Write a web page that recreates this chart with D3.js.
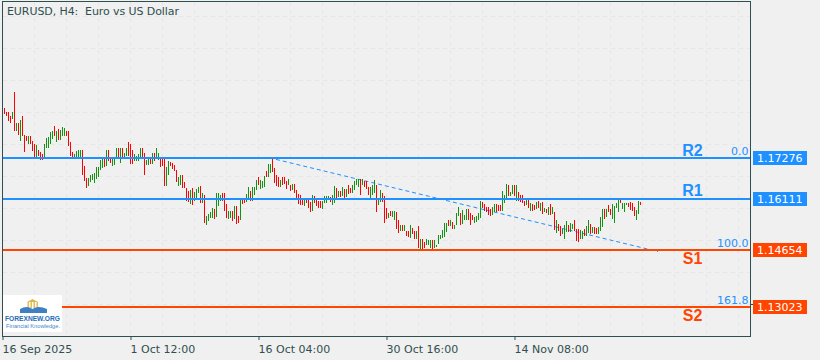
<!DOCTYPE html>
<html><head><meta charset="utf-8">
<script src="https://cdn.jsdelivr.net/npm/d3@7/dist/d3.min.js"></script>
<style>html,body{margin:0;padding:0;background:#f0f0f0;overflow:hidden}svg{display:block}text{font-family:"DejaVu Sans",sans-serif}</style>
</head><body><svg id="c" width="820" height="360"></svg>
<script>
// Prices in pips (price x 10000)
const highs = [
11872,11860,11860,11849,11860,11918,11830,11830,11837,11849,11795,11793,11792,11792,11778,11769,11765,11753,11746,11740,11769,11786,11790,11803,11807,11820,11807,11811,11809,11818,11816,11807,11807,11774,11746,11740,11749,11753,11751,11753,11707,11671,11671,11679,11683,11686,11702,11704,11723,11725,11727,11751,11753,11727,11725,11727,11759,11757,11757,11759,11744,11757,11776,11769,11753,11740,11734,11740,
11757,11757,11744,11723,11729,11729,11744,11744,11757,11744,11729,11729,11729,11704,11721,11717,11715,11708,11694,11675,11681,11681,11660,11643,11635,11637,11643,11631,11641,11647,11649,11630,11622,11564,11568,11574,11587,11582,11630,11630,11622,11628,11628,11597,11578,11578,11576,11591,11591,11564,11610,11612,11612,11626,11647,11635,11647,11647,11666,11675,11666,11662,11677,11692,11712,
11712,11729,11699,11681,11676,11666,11674,11674,11664,11668,11653,11655,11655,11637,11626,11624,11609,11609,11609,11609,11603,11624,11620,11609,11607,11607,11607,11620,11620,11620,11618,11622,11649,11643,11635,11635,11647,11639,11641,11653,11643,11651,11664,11670,11668,11668,11670,11664,11662,11647,11647,11653,11666,11653,11609,11637,11630,11620,11586,11572,11578,11576,11576,11574,11551,
11538,11538,11538,11521,11519,11538,11529,11519,11519,11533,11496,11496,11487,11496,11495,11495,11495,11495,11479,11508,11508,11523,11544,11544,11552,11552,11546,11538,11571,11588,11571,11580,11565,11582,11582,11571,11565,11561,11563,11571,11605,11603,11596,11588,11588,11582,11588,11598,11596,11594,11594,11634,11624,11655,11651,11632,11651,11651,11651,11632,11622,11622,11607,11609,11615,
11599,11596,11594,11603,11605,11601,11603,11586,11584,11590,11598,11588,11573,11552,11540,11535,11525,11536,11548,11536,11542,11540,11552,11527,11525,11523,11519,11525,11535,11550,11540,11531,11531,11529,11531,11561,11584,11584,11582,11594,11584,11596,11592,11601,11611,11609,11599,11599,11601,11599,11603,11601,11590,11580,11605,11603];
const lows = [
11856,11849,11835,11830,11841,11807,11807,11795,11778,11793,11746,11778,11769,11769,11749,11730,11730,11736,11723,11723,11730,11757,11759,11769,11784,11793,11774,11780,11780,11792,11792,11792,11763,11736,11728,11730,11730,11732,11730,11681,11662,11643,11648,11660,11665,11658,11669,11675,11694,11700,11702,11707,11719,11715,11707,11709,11727,11730,11715,11732,11730,11734,11736,11711,11711,11721,11719,11721,
11729,11729,11681,11710,11710,11712,11713,11721,11729,11723,11704,11706,11649,11649,11681,11706,11698,11692,11660,11650,11652,11643,11643,11605,11603,11597,11595,11605,11612,11630,11601,11601,11543,11538,11549,11557,11557,11555,11559,11591,11606,11606,11578,11557,11555,11557,11549,11555,11540,11542,11551,11597,11599,11603,11612,11606,11605,11624,11637,11652,11641,11643,11645,11675,11675,
11685,11689,11657,11649,11645,11647,11653,11655,11639,11653,11634,11636,11628,11615,11597,11595,11594,11592,11599,11586,11574,11576,11599,11592,11586,11586,11584,11599,11601,11609,11603,11595,11601,11615,11616,11618,11620,11615,11616,11626,11628,11628,11637,11653,11647,11624,11651,11645,11641,11624,11615,11624,11630,11574,11595,11603,11603,11544,11555,11557,11563,11561,11551,11527,11515,
11519,11521,11521,11506,11504,11500,11512,11496,11496,11472,11468,11468,11472,11479,11479,11470,11468,11470,11474,11483,11498,11500,11504,11516,11533,11533,11525,11527,11538,11563,11538,11540,11550,11552,11552,11538,11552,11544,11546,11552,11557,11586,11577,11573,11567,11563,11567,11575,11575,11577,11577,11578,11601,11615,11620,11619,11626,11619,11607,11605,11603,11599,11592,11594,11586,
11578,11578,11580,11582,11586,11577,11569,11573,11571,11567,11565,11569,11523,11515,11521,11506,11510,11498,11517,11517,11517,11527,11521,11492,11487,11496,11498,11506,11506,11514,11512,11515,11510,11510,11512,11519,11531,11554,11561,11573,11565,11554,11544,11586,11575,11599,11584,11575,11594,11590,11580,11578,11563,11552,11569,11594];
// g = rising bar, r = falling bar
const directions = (
"rrrrg"+"rgrgr"+"rrgrr"+"rgrrr"+"ggggg"+"rgrgg"+"grrrr"+"ggggr"+"rrggg"+"ggggg"+"rgrrg"+"ggrgr"+"ggrrr"+"ggg"+
"grrgg"+"rgrgg"+"rrrgg"+"rrrrg"+"grrrr"+"grggg"+"rgrgg"+"ggrgg"+"grrrg"+"grgrr"+"grrgg"+"rgggr"+"gggrg"+
"grrrr"+"grrrg"+"rgrrr"+"rrgrr"+"rgrrr"+"rgggg"+"rggrg"+"rgrgr"+"rgggg"+"rgrrr"+"gggrg"+"grrrg"+"rggrr"+
"grgrr"+"grrgr"+"grrgg"+"grggg"+"ggggr"+"grggg"+"rgggr"+"rrggg"+"grrrr"+"rggrr"+"rgggr"+"ggrgr"+"rrrgr"+
"grrgr"+"grgrg"+"rgrgr"+"rgggr"+"ggrrr"+"ggrgg"+"rgrrg"+"ggrgr"+"rgggg"+"rgggr"+"rrrgg"+"r").split("");

const timeTickBars = [0,64,128,192,256];
const timeTickLabels = ["16 Sep 2025","1 Oct 12:00","16 Oct 04:00","30 Oct 16:00","14 Nov 08:00"];
const gridBars = d3.range(0,24).map(k=>k*16);
const gridPrices = [12134,12042,11951,11859,11767,11676,11584,11492,11401,11309];
const levelNames = ["R2","R1","S1","S2"];
const levelPrices = [11727.6,11611.1,11465.4,11302.3];
const levelLabels = ["1.17276","1.16111","1.14654","1.13023"];
const levelColors = ["#1e90ff","#1e90ff","#ff4500","#ff4500"];
const fibLabels = ["0.0",null,"100.0","161.8"];
const fibLineBars = [137,328];
const fibLinePrices = [11725,11461];

const svg = d3.select("#c");
const x = d3.scaleLinear().domain([0,64]).range([2,130]);
const y = d3.scaleLinear().domain([12176,11219]).range([2,336]);
const ink = "#2f4f4f";
const crisp = v => Math.floor(v)+0.5;

// grid
const grid = svg.append("g").attr("stroke","#e6e6e6").attr("stroke-dasharray","4 4").attr("shape-rendering","crispEdges");
grid.selectAll("line.v").data(gridBars).join("line").attr("x1",d=>crisp(x(d))).attr("x2",d=>crisp(x(d))).attr("y1",2).attr("y2",336);
grid.selectAll("line.h").data(gridPrices).join("line").attr("x1",3).attr("x2",750).attr("y1",d=>crisp(y(d))).attr("y2",d=>crisp(y(d)));

// fib trend line
svg.append("path").datum(fibLineBars.map((b,i)=>[b,fibLinePrices[i]]))
  .attr("d",d3.line().x(d=>x(d[0])).y(d=>y(d[1])))
  .attr("fill","none").attr("stroke","#1e90ff").attr("stroke-width",1).attr("stroke-dasharray","4 3");

// bars
svg.append("g").attr("shape-rendering","crispEdges").selectAll("rect").data(highs).join("rect")
  .attr("x",(d,i)=>Math.round(x(i+1)))
  .attr("width",1)
  .attr("y",d=>Math.round(y(d)))
  .attr("height",(d,i)=>Math.max(1,Math.round(y(lows[i]))-Math.round(y(d))))
  .attr("fill",(d,i)=>directions[i]==="g"?"#129412":"#ff0000");

// levels
const levY = d=>Math.round(y(d)-0.2);
svg.append("g").attr("shape-rendering","crispEdges").selectAll("line").data(levelPrices).join("line")
  .attr("x1",3).attr("x2",750).attr("y1",levY).attr("y2",levY)
  .attr("stroke-width",2).attr("stroke",(d,i)=>levelColors[i]);

// level names
svg.append("g").selectAll("text").data(levelNames).join("text")
  .text(d=>d).attr("x",692.5).attr("text-anchor","middle")
  .attr("y",(d,i)=>levY(levelPrices[i])+[-2.5,-3,13.5,14][i])
  .style("font-family","'Liberation Sans',Arial,sans-serif").style("font-weight","bold").style("font-size","16px")
  .attr("fill",(d,i)=>levelColors[i]);

// fib labels
svg.append("g").selectAll("text").data(fibLabels).join("text")
  .text(d=>d).attr("x",748.5).attr("text-anchor","end")
  .attr("y",(d,i)=>levY(levelPrices[i])-3.5)
  .style("font-size","11px").attr("fill","#1e90ff");

// frame
svg.append("rect").attr("x",2.5).attr("y",1.5).attr("width",748).attr("height",335)
  .attr("fill","none").attr("stroke",ink).attr("shape-rendering","crispEdges");
svg.append("line").attr("x1",751).attr("x2",754).attr("y1",304.5).attr("y2",304.5).attr("stroke",ink);

// price tags
const tags = svg.append("g").selectAll("g").data(levelPrices).join("g").attr("transform",d=>`translate(753,${levY(d)-7})`);
tags.append("rect").attr("width",54).attr("height",14).attr("fill",(d,i)=>levelColors[i]);
tags.append("text").text((d,i)=>levelLabels[i]).attr("x",4).attr("y",11).attr("fill","#fff").style("font-size","11px");

// time axis
const axis = d3.axisBottom(x).tickValues(timeTickBars).tickFormat((d,i)=>timeTickLabels[i]).tickSize(4).tickPadding(5);
const ax = svg.append("g").attr("transform","translate(0.5,336)").call(axis);
ax.select(".domain").remove();
ax.selectAll("line").attr("stroke",ink);
ax.selectAll("text").attr("text-anchor","start").attr("x",-0.5).attr("fill",ink).style("font-size","11px").style("font-family","'DejaVu Sans',sans-serif");

// title
svg.append("text").attr("x",7).attr("y",15).attr("xml:space","preserve").style("white-space","pre").style("font-size","11px").attr("textLength",172).attr("fill",ink).text("EURUSD, H4:  Euro vs US Dollar");

// logo
const logo = svg.append("g");
logo.append("rect").attr("x",3).attr("y",295).attr("width",59).attr("height",37).attr("fill","#fff");
logo.append("path").attr("d","M27 302 L32.5 299 L38 302 Z").attr("fill","#e0b84a");
[28,31,34,37].forEach(c=>logo.append("rect").attr("x",c-0.5).attr("y",302).attr("width",1.4).attr("height",6).attr("fill","#e0b84a"));
logo.append("path").attr("d","M20 309 Q27 305 32.5 309 Q38 305 47 309 L47 313 L20 313 Z").attr("fill","#3f7fc4");
logo.append("text").attr("x",5).attr("y",321).style("font-family","'Liberation Sans',sans-serif").style("font-weight","bold").style("font-size","7.4px").attr("textLength",55).attr("lengthAdjust","spacingAndGlyphs").attr("fill","#1f6bb5").text("FOREXNEW.ORG");
logo.append("text").attr("x",6).attr("y",328).style("font-family","'Liberation Sans',sans-serif").style("font-size","5.8px").attr("textLength",54).attr("lengthAdjust","spacingAndGlyphs").attr("fill","#3f86c8").text("Financial Knowledge.");
</script></body></html>
